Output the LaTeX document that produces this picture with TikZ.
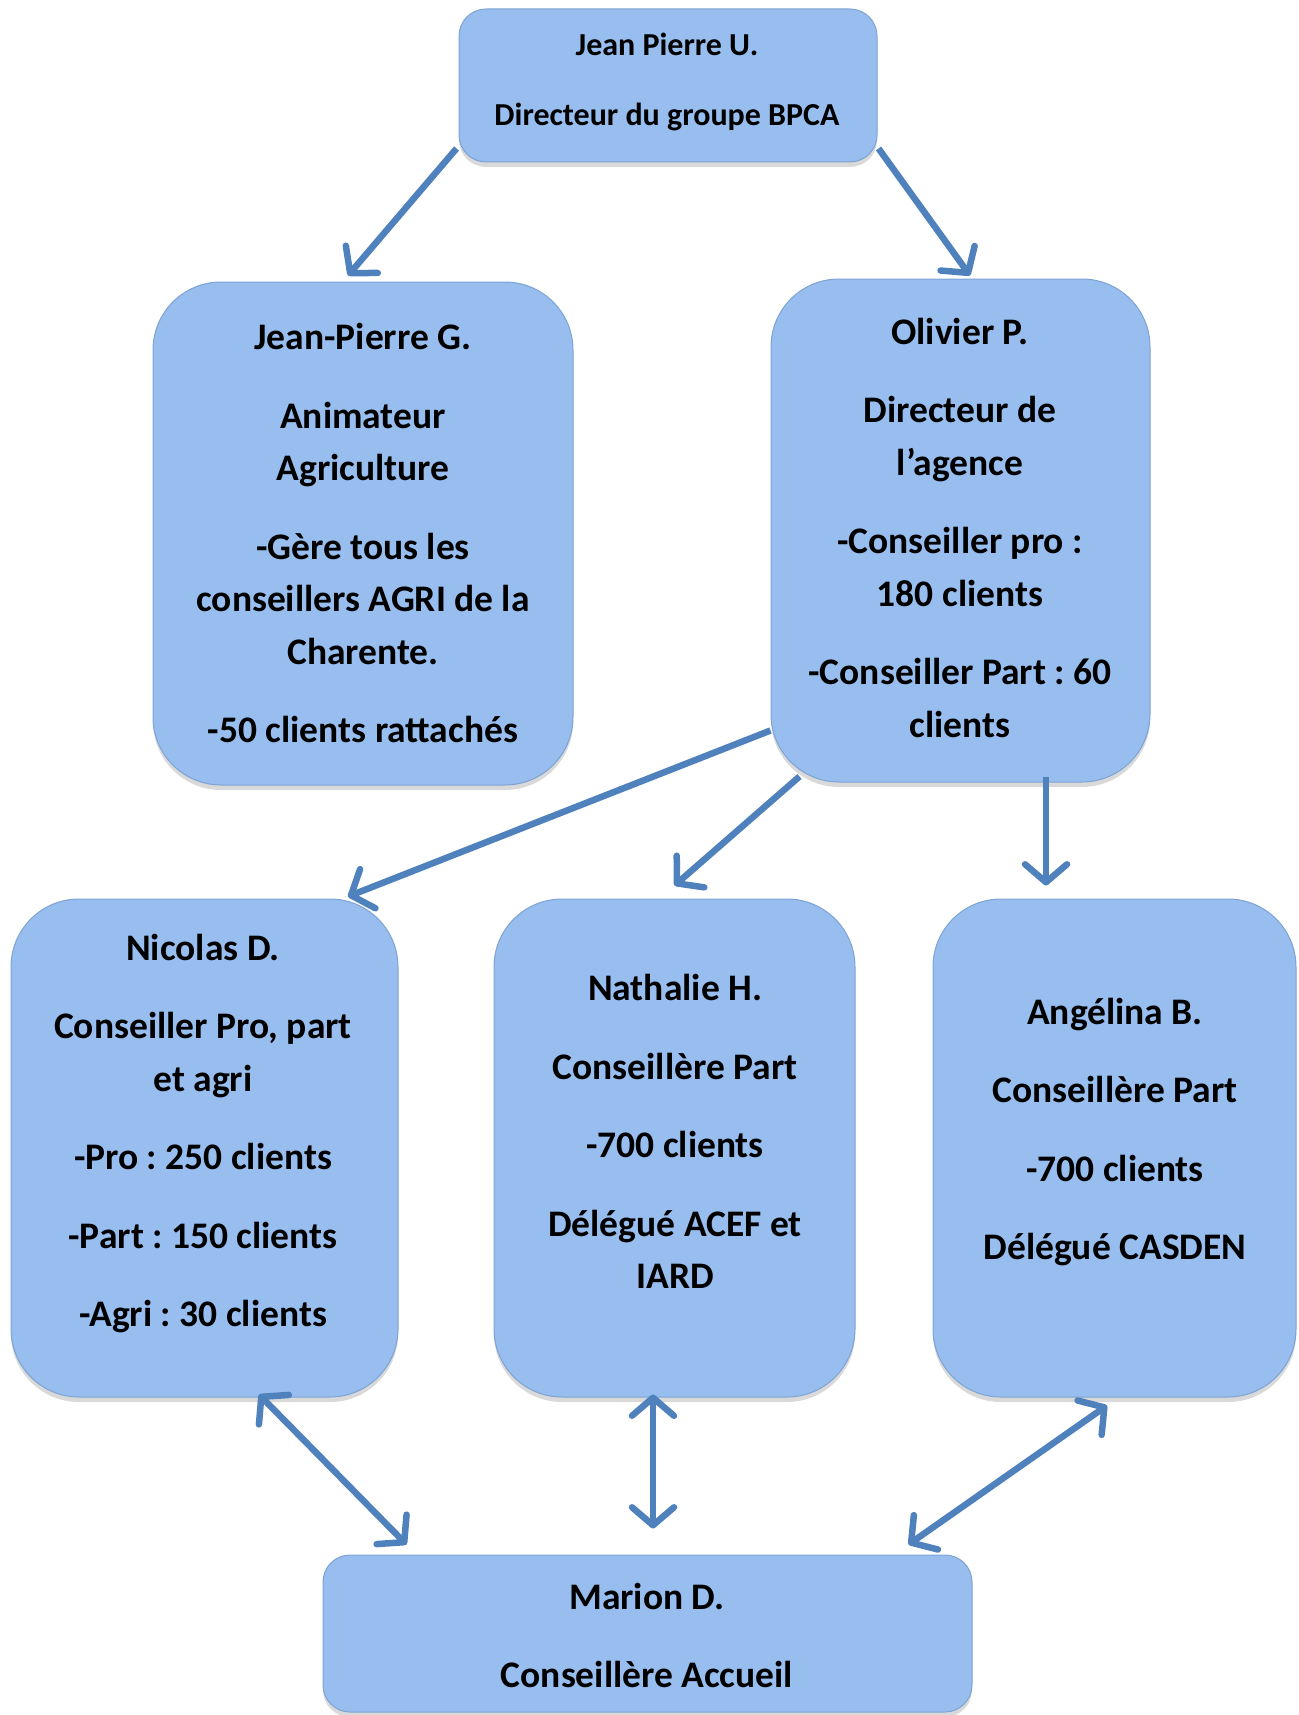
\documentclass[tikz,border=0pt]{standalone}
\usepackage{fontspec}
\setmainfont{Carlito}
\usetikzlibrary{arrows.meta,shadows}
\definecolor{boxfill}{RGB}{152,190,239}
\definecolor{boxline}{RGB}{125,163,212}
\definecolor{arrowblue}{RGB}{79,129,189}
\frenchspacing
\begin{document}
\begin{tikzpicture}[x=1pt,y=-1pt,
  box/.style={draw=boxline, line width=1pt, fill=boxfill,
    drop shadow={shadow xshift=0pt,shadow yshift=-5pt,opacity=0.3}, inner sep=0pt},
  tallbox/.style={box, rounded corners=68pt},
  flatbox/.style={box, rounded corners=27pt},
  txt/.style={font=\fontsize{37.5}{52.5}\selectfont\bfseries, align=center, inner sep=0pt},
  toptxt/.style={font=\fontsize{32}{40}\selectfont\bfseries, align=center, inner sep=0pt},
  arr/.style={draw=arrowblue, line width=6.5pt, -{Straight Barb[length=18pt,width=42pt,round]}},
  darr/.style={draw=arrowblue, line width=6.5pt, {Straight Barb[length=18pt,width=42pt,round]}-{Straight Barb[length=18pt,width=42pt,round]}}]
\useasboundingbox (0,0) rectangle (1298,1715);

% boxes
\node[flatbox, minimum width=418pt, minimum height=153pt] (top) at (668,85.5) {};
\node[tallbox, minimum width=420pt, minimum height=503pt] (jpg) at (363,533.5) {};
\node[tallbox, minimum width=379pt, minimum height=503pt] (oli) at (960.5,530.5) {};
\node[tallbox, minimum width=387pt, minimum height=498pt] (nic) at (204.5,1148) {};
\node[tallbox, minimum width=361pt, minimum height=498pt] (nat) at (674.5,1148) {};
\node[tallbox, minimum width=363pt, minimum height=498pt] (ang) at (1114.5,1148) {};
\node[flatbox, minimum width=649pt, minimum height=157pt] (mar) at (647.5,1633.5) {};

% texts
\node[toptxt] (topT) at (667,82) {Jean Pierre U.\\[30pt]Directeur du groupe BPCA};
\node[txt] (jpgT) at (363,533) {Jean-Pierre G.\\[26pt]Animateur\\Agriculture\\[26pt]-Gère tous les\\conseillers AGRI de la\\Charente.\\[26pt]-50 clients rattachés};
\node[txt] (oliT) at (960,527.5) {Olivier P.\\[26pt]Directeur de\\l’agence\\[26pt]-Conseiller pro :\\180 clients\\[26pt]-Conseiller Part : 60\\clients};
\node[txt] (nicT) at (203,1133.5) {Nicolas D.\\[26pt]Conseiller Pro, part\\et agri\\[26pt]-Pro : 250 clients\\[26pt]-Part : 150 clients\\[26pt]-Agri : 30 clients};
\node[txt] (natT) at (675,1131.5) {Nathalie H.\\[26pt]Conseillère Part\\[26pt]-700 clients\\[26pt]Délégué ACEF et\\IARD};
\node[txt] (angT) at (1115,1132) {Angélina B.\\[26pt]Conseillère Part\\[26pt]-700 clients\\[26pt]Délégué CASDEN};
\node[txt] (marT) at (647,1635.5) {Marion D.\\[26pt]Conseillère Accueil};

% connectors
\draw[arr] ([xshift=-2pt,yshift=14pt]top.south west) -- ([xshift=-15pt,yshift=6pt]jpg.north);
\draw[arr] ([xshift=1pt,yshift=14pt]top.south east) -- ([xshift=9.5pt,yshift=3pt]oli.north);
\draw[arr] ([yshift=52pt]oli.south west) -- ([xshift=143.5pt,yshift=2pt]nic.north);
\draw[arr] ([xshift=29pt,yshift=6pt]oli.south west) -- ([yshift=13pt]nat.north);
\draw[arr] ([xshift=85.5pt,yshift=6pt]oli.south) -- ([xshift=-68.5pt,yshift=13pt]ang.north);
\draw[darr] ([xshift=54.5pt,yshift=3pt]nic.south) -- ([xshift=84pt,yshift=10pt]mar.north west);
\draw[darr] ([xshift=-21.5pt,yshift=3pt]nat.south) -- ([xshift=5.5pt,yshift=26pt]mar.north);
\draw[darr] ([xshift=-7.5pt,yshift=-8pt]ang.south) -- ([xshift=-64pt,yshift=10pt]mar.north east);
\end{tikzpicture}
\end{document}
